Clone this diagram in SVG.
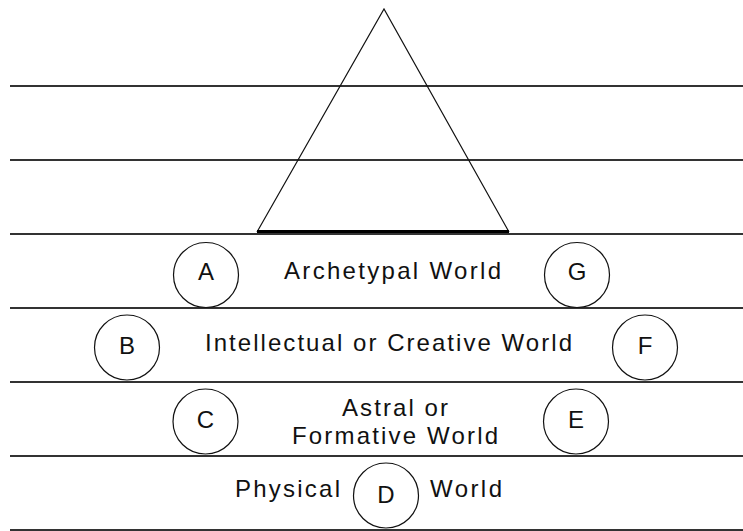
<svg xmlns="http://www.w3.org/2000/svg" width="743" height="531" viewBox="0 0 743 531">
<style>
.band{stroke:#333;stroke-width:2;fill:none}
.c{fill:none;stroke:#111;stroke-width:1.2}
.t{font-family:"Liberation Sans",Arial,sans-serif;font-size:24px;fill:#111}
.l{font-family:"Liberation Sans",Arial,sans-serif;font-size:24px;fill:#111;text-anchor:middle}
</style>
<rect width="743" height="531" fill="#fff"/>
<g id="lines">
<line class="band" x1="10" y1="86" x2="743" y2="86"/>
<line class="band" x1="10" y1="160" x2="743" y2="160"/>
<line class="band" x1="10" y1="234" x2="743" y2="234"/>
<line class="band" x1="10" y1="308" x2="743" y2="308"/>
<line class="band" x1="10" y1="382" x2="743" y2="382"/>
<line class="band" x1="10" y1="456" x2="743" y2="456"/>
<line class="band" x1="10" y1="530" x2="743" y2="530"/>
</g>
<g id="triangle">
<polyline points="257,232 384,9 509,232" fill="none" stroke="#111" stroke-width="1.2"/>
<line x1="257" y1="231.5" x2="509" y2="231.5" stroke="#000" stroke-width="3"/>
</g>
<g id="labels">
<text class="t" x="284" y="279" textLength="217" lengthAdjust="spacing">Archetypal World</text>
<text class="t" x="205" y="351" textLength="367" lengthAdjust="spacing">Intellectual or Creative World</text>
<text class="t" x="342" y="416" textLength="106" lengthAdjust="spacing">Astral or</text>
<text class="t" x="292" y="444" textLength="206" lengthAdjust="spacing">Formative World</text>
<text class="t" x="235" y="497" textLength="105" lengthAdjust="spacing">Physical</text>
<text class="t" x="430" y="497" textLength="72" lengthAdjust="spacing">World</text>
</g>
<g id="nodeA"><circle class="c" cx="206" cy="275" r="32.5"/><text class="l" x="206" y="280">A</text></g>
<g id="nodeG"><circle class="c" cx="577" cy="275" r="32.5"/><text class="l" x="577" y="280">G</text></g>
<g id="nodeB"><circle class="c" cx="127" cy="347.5" r="32.5"/><text class="l" x="127" y="354">B</text></g>
<g id="nodeF"><circle class="c" cx="645" cy="347.5" r="32.5"/><text class="l" x="645" y="354">F</text></g>
<g id="nodeC"><circle class="c" cx="205.5" cy="421.5" r="32.5"/><text class="l" x="205.5" y="428">C</text></g>
<g id="nodeE"><circle class="c" cx="576" cy="421.5" r="32.5"/><text class="l" x="576" y="428">E</text></g>
<g id="nodeD"><circle class="c" cx="386" cy="495.5" r="32.5"/><text class="l" x="386" y="503">D</text></g>
</svg>
